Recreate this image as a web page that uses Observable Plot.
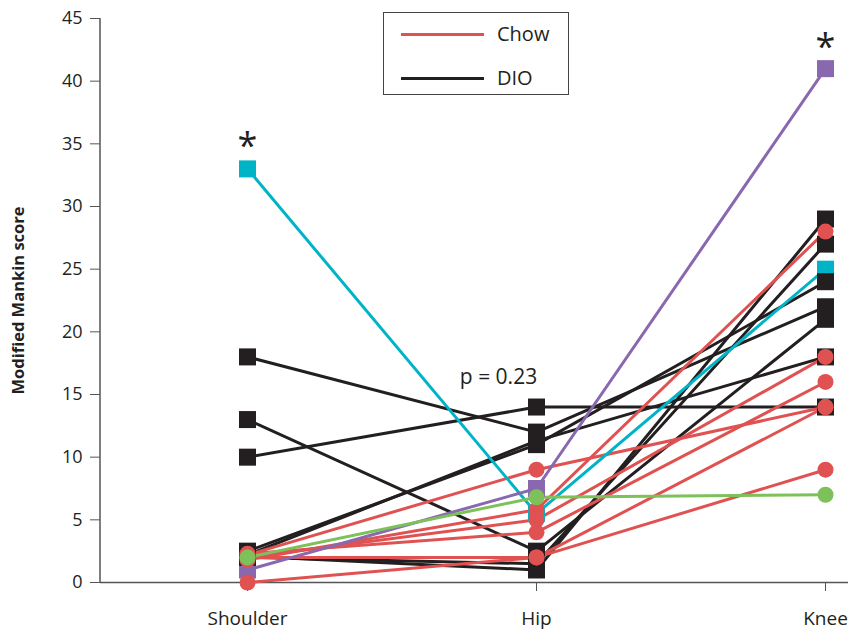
<!DOCTYPE html>
<html>
<head>
<meta charset="utf-8">
<script src="https://cdn.jsdelivr.net/npm/d3@7"></script>
<script src="https://cdn.jsdelivr.net/npm/@observablehq/plot@0.6"></script>
<style>
  html, body { margin: 0; padding: 0; background: #fff; }
  #wrap { position: relative; width: 848px; height: 638px; font-family: "Open Sans", "Noto Sans", sans-serif; }
  #legend { position: absolute; left: 383px; top: 12px; width: 184px; height: 81px; border: 1.5px solid #444; background: #fff; }
  .lg-line { position: absolute; left: 17px; width: 83px; height: 3px; }
  .lg-text { position: absolute; left: 113px; font-size: 20px; color: #231f20; line-height: 24px; }
</style>
</head>
<body>
<div id="wrap"><div id="legend">
  <div class="lg-line" style="top:20px;background:#e05252"></div><div class="lg-text" style="top:9px">Chow</div>
  <div class="lg-line" style="top:64px;background:#231f20"></div><div class="lg-text" style="top:53px">DIO</div>
</div></div>
<script>
// ---- data ----
const joints = ["Shoulder", "Hip", "Knee"];
const subjectGroup = ["DIO","DIO","DIO","DIO","DIO","DIO","DIO","DIO","DIO","Chow","Chow","Chow","Chow","Chow","Chow","Chow"];
const subjectColor = ["#00b4c8","#8a68b0","#231f20","#231f20","#231f20","#231f20","#231f20","#231f20","#231f20","#e05252","#e05252","#e05252","#e05252","#e05252","#e05252","#7cc15a"];
const shoulderScores = [33, 1, 18, 10, 2.5, 2.2, 13, 2.0, 2.1, 0, 2.0, 2.2, 1.8, 2.0, 2.3, 2.0];
const hipScores      = [5.5, 7.5, 12, 14, 11, 11.3, 2.5, 1.5, 1.0, 2, 2, 9, 5.8, 5, 4, 6.8];
const kneeScores     = [25, 41, 22, 14, 24, 18, 21, 27, 29, 9, 14, 14, 28, 18, 16, 7];
const asteriskJoints = ["Shoulder", "Knee"];
const asteriskY = [35.6, 43.5];
const pLabel = "p = 0.23";
const yTicks = [0,5,10,15,20,25,30,35,40,45];
const yLabel = "Modified Mankin score";

// ---- build table ----
const rows = [];
subjectGroup.forEach((g, i) => {
  [shoulderScores[i], hipScores[i], kneeScores[i]].forEach((v, j) => {
    rows.push({id: i, group: g, color: subjectColor[i], joint: joints[j], score: v});
  });
});
// draw order: black lines, red, cyan, purple, green
const lineRank = c => ({"#231f20":0, "#e05252":1, "#00b4c8":2, "#8a68b0":3, "#7cc15a":4})[c];
const lineRows = rows.slice().sort((a, b) => lineRank(a.color) - lineRank(b.color) || a.id - b.id);
const squareRank = c => ({"#00b4c8":0, "#8a68b0":1, "#231f20":2})[c];
const squares = rows.filter(d => d.group === "DIO").sort((a, b) => squareRank(a.color) - squareRank(b.color));
const circles = rows.filter(d => d.group === "Chow").sort((a, b) => (a.color === "#7cc15a") - (b.color === "#7cc15a"));

const W = 848, H = 638, mT = 18, mB = 56, mL = 100, mR = 0;
const plot = Plot.plot({
  width: W, height: H,
  marginTop: mT, marginBottom: mB, marginLeft: mL, marginRight: mR,
  style: {fontFamily: '"Open Sans", "Noto Sans", sans-serif', color: "#231f20", background: "#fff"},
  x: {type: "point", domain: joints, range: [246, 825], padding: 0},
  y: {domain: [0, 45], range: [H - mB, mT]},
  marks: [
    Plot.axisY({ticks: yTicks, tickSize: 10, tickPadding: 8, fontSize: 18, label: null, stroke: "#555"}),
    Plot.axisX({tickSize: 9, tickPadding: 20, fontSize: 19, label: null, stroke: "#555"}),
    Plot.ruleY([0], {stroke: "#555", strokeWidth: 1.5}),
    Plot.line(lineRows, {x: "joint", y: "score", z: "id", stroke: "color", strokeWidth: 3}),
    Plot.dot(squares, {x: "joint", y: "score", symbol: "square", r: 9.6, fill: "color", stroke: null}),
    Plot.dot(circles, {x: "joint", y: "score", symbol: "circle", r: 8, fill: "color", stroke: null}),
    Plot.text(asteriskJoints, {x: d => d, y: (d, i) => asteriskY[i], text: () => "*", fontSize: 36, dy: 10, fill: "#231f20"}),
    Plot.text([pLabel], {x: () => "Hip", y: () => 16.4, text: d => d, dx: -38, fontSize: 21, fill: "#231f20"}),
    Plot.text([yLabel], {frameAnchor: "left", rotate: -90, dx: -82, textAnchor: "middle", text: d => d, fontSize: 16.5, fontWeight: "bold", fill: "#231f20"})
  ]
});
// left axis domain line
d3.select(plot).append("line")
  .attr("x1", mL).attr("x2", mL).attr("y1", mT).attr("y2", H - mB)
  .attr("stroke", "#555").attr("stroke-width", 1.5);
document.getElementById("wrap").prepend(plot);
</script>
</body>
</html>
